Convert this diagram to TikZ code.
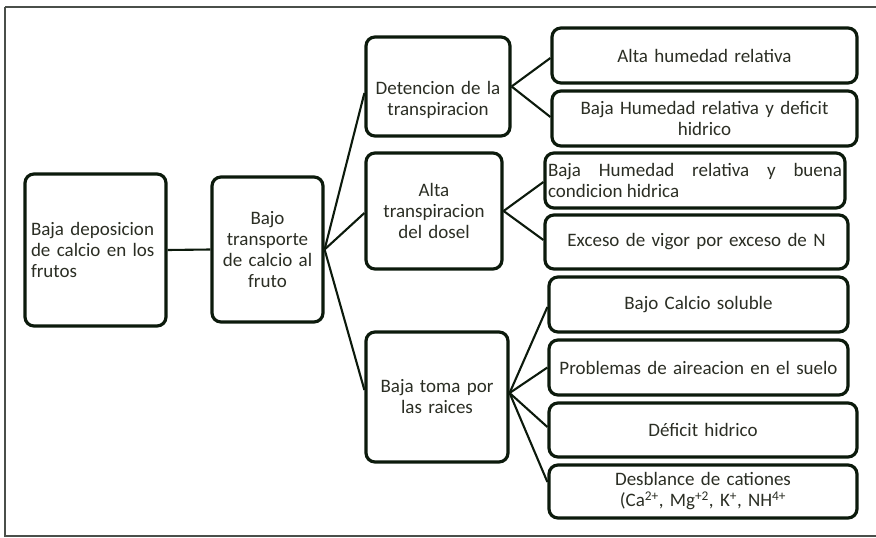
\documentclass[tikz,border=0pt]{standalone}
\usepackage{fontspec}
\setmainfont{Carlito}
\definecolor{edge}{HTML}{0C1A0C}
\definecolor{ink}{HTML}{2B2E24}
\definecolor{frame}{HTML}{4A4F4A}
\begin{document}
\begin{tikzpicture}[x=1pt,y=-1pt,
  box/.style={draw=edge, line width=3.2pt, rounded corners=9pt, fill=white,
    text=ink, inner sep=3pt, align=center,
    font=\fontsize{19}{21}\selectfont},
  link/.style={draw=edge, line width=2.1pt}]
\useasboundingbox (0,0) rectangle (876,538);
\draw[frame, line width=1.6pt] (5,7) -- (880,7);
\draw[frame, line width=1.6pt] (5,7) -- (5,536) -- (880,536);

\node[box, minimum width=141pt, minimum height=152pt, text width=129pt, align=left] (b1) at (95.5,250)
  {Baja deposicion\\de calcio en los\\frutos};
\node[box, minimum width=111pt, minimum height=145pt, text width=105pt] (b2) at (267.5,249.5)
  {Bajo\\transporte\\de calcio al\\fruto};
\node[box, minimum width=144pt, minimum height=99pt, text width=138pt] (b3) at (438,86.5)
  {\mbox{}\\[20pt]Detencion de la\\transpiracion};
\node[box, minimum width=136pt, minimum height=116pt, text width=130pt] (b4) at (434,211)
  {Alta\\transpiracion\\del dosel};
\node[box, minimum width=142pt, minimum height=130pt, text width=136pt] (b5) at (437,397)
  {Baja toma por\\las raices};

\node[box, minimum width=305pt, minimum height=55pt, text width=297pt] (c1) at (704.5,55.5)
  {Alta humedad relativa};
\node[box, minimum width=305pt, minimum height=55pt, text width=297pt] (c2) at (704.5,118.5)
  {Baja Humedad relativa y deficit\\hidrico};
\node[box, minimum width=300pt, minimum height=55pt, text width=294pt, align=justify] (c3) at (695,180.5)
  {Baja Humedad relativa y buena\linebreak condicion hidrica};
\node[box, minimum width=303pt, minimum height=54pt, text width=295pt] (c4) at (696.5,242)
  {Exceso de vigor por exceso de N};
\node[box, minimum width=299pt, minimum height=55pt, text width=291pt] (c5) at (698.5,304.5)
  {Bajo Calcio soluble};
\node[box, minimum width=299pt, minimum height=55pt, text width=293pt] (c6) at (698.5,367.5)
  {Problemas de aireacion en el suelo};
\node[box, minimum width=308pt, minimum height=54pt, text width=300pt] (c7) at (703,430)
  {Déficit hidrico};
\node[box, minimum width=308pt, minimum height=53pt, text width=300pt] (c8) at (703,491.5)
  {Desblance de cationes\\(Ca\textsuperscript{2+}, Mg\textsuperscript{+2}, K\textsuperscript{+}, NH\textsuperscript{4+}};

\draw[link] (b1.east) -- (b2.west);
\draw[link] (b2.east) -- ([yshift=-6.5pt]b3.west);
\draw[link] (b2.east) -- ([yshift=-2pt]b4.west);
\draw[link] (b2.east) -- ([yshift=7pt]b5.west);
\draw[link] (b3.east) -- ([yshift=-2.5pt]c1.west);
\draw[link] (b3.east) -- ([yshift=1.5pt]c2.west);
\draw[link] (b4.east) -- ([yshift=-1.5pt]c3.west);
\draw[link] (b4.east) -- ([yshift=2pt]c4.west);
\draw[link] ([yshift=4pt]b5.east) -- ([yshift=-2.5pt]c5.west);
\draw[link] ([yshift=4pt]b5.east) -- (c6.west);
\draw[link] ([yshift=4pt]b5.east) -- ([yshift=3pt]c7.west);
\draw[link] ([yshift=4pt]b5.east) -- ([yshift=9.5pt]c8.west);
\end{tikzpicture}
\end{document}
